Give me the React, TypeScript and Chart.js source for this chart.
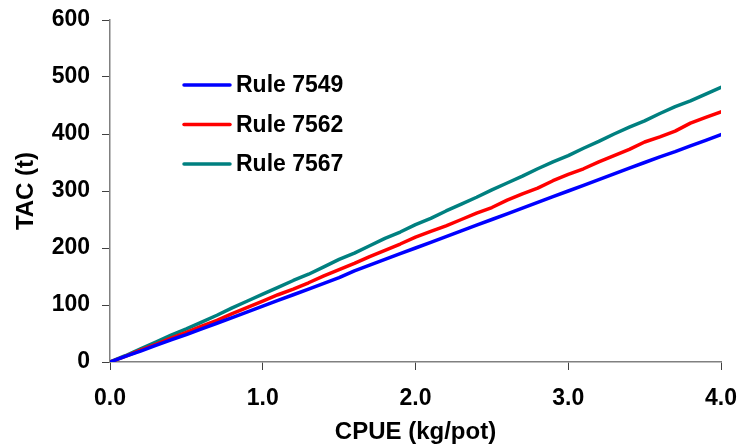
import React, { useEffect, useRef } from "react";
import { Chart, registerables } from "chart.js";

Chart.register(...registerables);

const cpue = [
  0.0, 0.1, 0.2, 0.3, 0.4, 0.5, 0.6, 0.7, 0.8, 0.9,
  1.0, 1.1, 1.2, 1.3, 1.4, 1.5, 1.6, 1.7, 1.8, 1.9,
  2.0, 2.1, 2.2, 2.3, 2.4, 2.5, 2.6, 2.7, 2.8, 2.9,
  3.0, 3.1, 3.2, 3.3, 3.4, 3.5, 3.6, 3.7, 3.8, 3.9, 4.0,
];

const rule7549 = [
  0, 10, 19, 29, 39, 48, 58, 68, 78, 88,
  98, 108, 118, 128, 138, 148, 160, 170, 180, 190,
  200, 210, 220, 230, 240, 250, 260, 270, 280, 290,
  300, 310, 320, 330, 340, 350, 360, 369, 379, 389, 399,
];

const rule7562 = [
  0, 10, 21, 31, 42, 52, 63, 73, 85, 96,
  107, 118, 128, 139, 151, 162, 173, 185, 196, 207,
  219, 229, 239, 250, 261, 271, 284, 295, 305, 318,
  329, 339, 351, 362, 373, 386, 395, 405, 419, 429, 439,
];

const rule7567 = [
  0, 11, 23, 35, 47, 58, 70, 82, 95, 107,
  119, 131, 143, 154, 167, 180, 191, 204, 217, 228,
  241, 252, 265, 277, 289, 302, 314, 326, 339, 351,
  362, 375, 387, 400, 412, 423, 436, 448, 458, 470, 482,
];

const seriesLabels = ["Rule 7549", "Rule 7562", "Rule 7567"];
const seriesColors = ["#0000FF", "#FF0000", "#008080"];
const seriesData = [rule7549, rule7562, rule7567];

const FONT = "'Liberation Sans', Arial, sans-serif";

const legendPlugin = {
  id: "insideLegend",
  afterDatasetsDraw(chart: any) {
    const ctx = chart.ctx;
    const rows = [85, 124.5, 164];
    ctx.save();
    chart.data.datasets.forEach((ds: any, i: number) => {
      const y = rows[i];
      ctx.strokeStyle = ds.borderColor;
      ctx.lineWidth = 3.5;
      ctx.lineCap = "round";
      ctx.beginPath();
      ctx.moveTo(184, y);
      ctx.lineTo(230, y);
      ctx.stroke();
      ctx.fillStyle = "#000";
      ctx.font = `bold 23px ${FONT}`;
      ctx.textBaseline = "middle";
      ctx.textAlign = "left";
      ctx.fillText(ds.label, 236, y + 1);
    });
    ctx.restore();
  },
};

export default function App() {
  const ref = useRef<HTMLCanvasElement | null>(null);

  useEffect(() => {
    if (!ref.current) return;
    const chart = new Chart(ref.current, {
      type: "line",
      data: {
        datasets: seriesData.map((vals, i) => ({
          label: seriesLabels[i],
          data: vals.map((v, j) => ({ x: cpue[j], y: v })),
          borderColor: seriesColors[i],
          backgroundColor: seriesColors[i],
          borderWidth: 3.5,
          pointRadius: 0,
          tension: 0,
          borderCapStyle: "round",
          borderJoinStyle: "round",
        })),
      },
      options: {
        animation: false,
        responsive: true,
        maintainAspectRatio: false,
        layout: { padding: { top: 20, right: 18, bottom: 0, left: 0 } },
        plugins: {
          legend: { display: false },
          tooltip: { enabled: false },
        },
        scales: {
          x: {
            type: "linear",
            min: 0,
            max: 4,
            afterFit: (s: any) => {
              s.height = 84;
              s.paddingLeft = 0;
              s.paddingRight = 0;
            },
            ticks: {
              stepSize: 1,
              callback: (v: any) => Number(v).toFixed(1),
              color: "#000",
              font: { family: FONT, size: 23, weight: "bold" },
              padding: 15,
              maxRotation: 0,
            },
            grid: {
              display: true,
              drawOnChartArea: false,
              drawTicks: true,
              tickLength: 8,
              color: "#808080",
              tickColor: "#404040",
            },
            border: { display: true, color: "#808080", width: 1.5 },
            title: {
              display: true,
              text: "CPUE (kg/pot)",
              color: "#000",
              font: { family: FONT, size: 24, weight: "bold", lineHeight: 1.1 },
              padding: { top: 0, bottom: 0 },
            },
          },
          y: {
            min: 0,
            max: 600,
            afterFit: (s: any) => {
              s.width = 110;
              s.paddingTop = 0;
              s.paddingBottom = 0;
            },
            ticks: {
              stepSize: 100,
              color: "#000",
              font: { family: FONT, size: 23, weight: "bold" },
              padding: 12,
            },
            grid: {
              display: true,
              drawOnChartArea: false,
              drawTicks: true,
              tickLength: 8,
              color: "#808080",
              tickColor: "#404040",
            },
            border: { display: true, color: "#808080", width: 1.5 },
            title: {
              display: true,
              text: "TAC (t)",
              color: "#000",
              font: { family: FONT, size: 24, weight: "bold", lineHeight: 1.1 },
              padding: { top: 13, bottom: 0 },
            },
          },
        },
      },
      plugins: [legendPlugin],
    });
    return () => chart.destroy();
  }, []);

  return (
    <div style={{ position: "absolute", left: 0, top: 0, width: 739, height: 446, background: "#fff" }}>
      <canvas ref={ref} />
    </div>
  );
}
